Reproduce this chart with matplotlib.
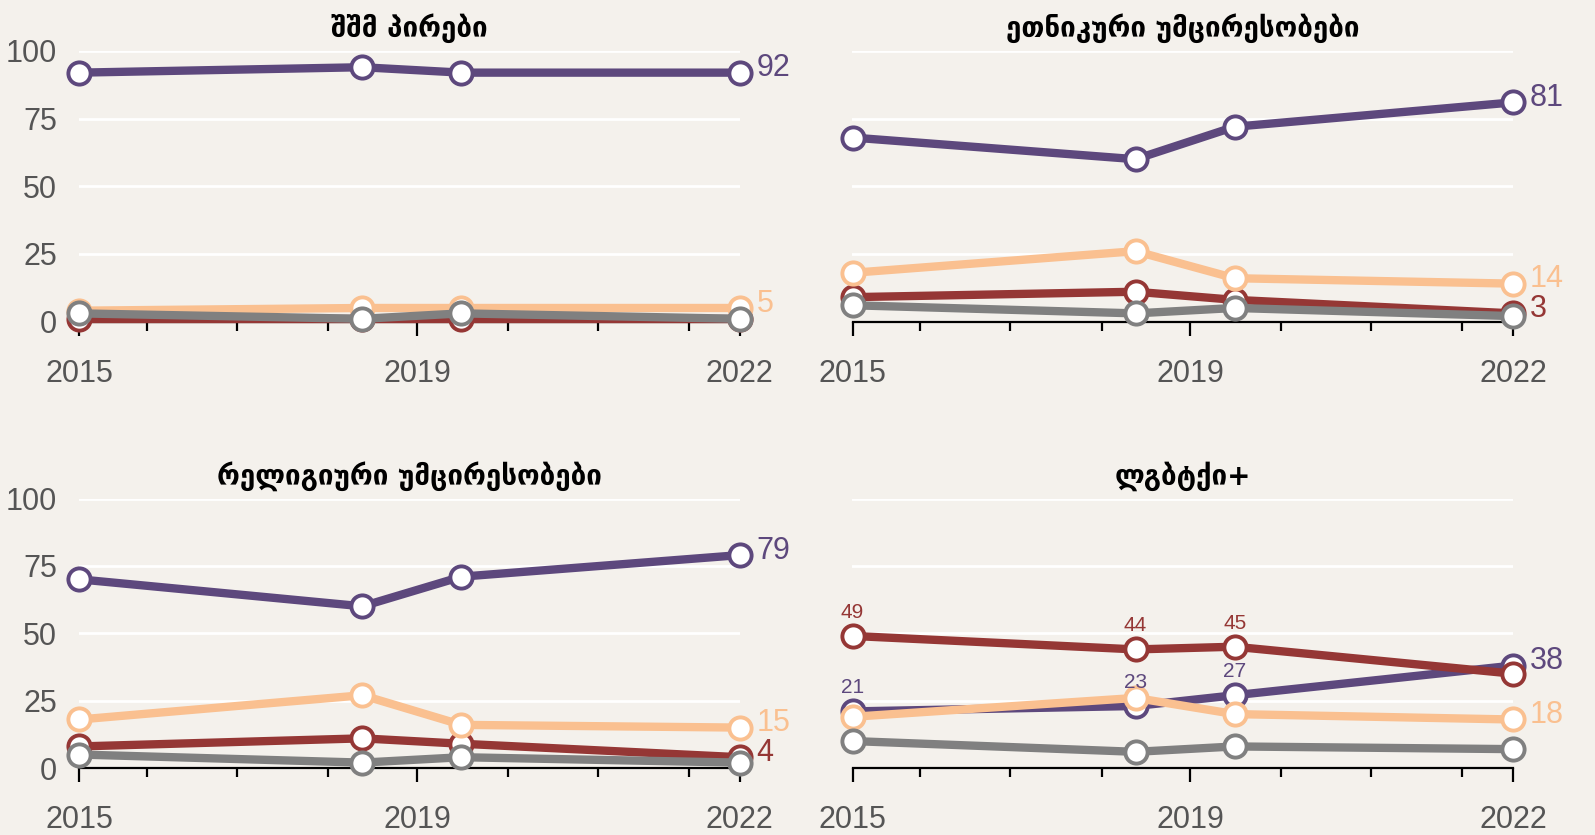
"""Small multiples: attitudes towards four groups, 2015-2022."""

import matplotlib
matplotlib.use('Agg')
from matplotlib import pyplot

# Survey waves (decimal years).
years = [2015.0, 2018.0, 2019.05, 2022.0]

titles = ['შშმ პირები', 'ეთნიკური უმცირესობები',
          'რელიგიური უმცირესობები', 'ლგბტქი+']

# One row per panel, in the order of the titles.
purple_vals = [[92, 94, 92, 92],
               [68, 60, 72, 81],
               [70, 60, 71, 79],
               [21, 23, 27, 38]]
red_vals = [[1, 1, 1, 1],
            [9, 11, 8, 3],
            [8, 11, 9, 4],
            [49, 44, 45, 35]]
peach_vals = [[4, 5, 5, 5],
              [18, 26, 16, 14],
              [18, 27, 16, 15],
              [19, 26, 20, 18]]
grey_vals = [[3, 1, 3, 1],
             [6, 3, 5, 2],
             [5, 2, 4, 2],
             [10, 6, 8, 7]]

# Which series get a value label at the last point, per panel.
end_labels = [['purple', 'peach'],
              ['purple', 'peach', 'red'],
              ['purple', 'peach', 'red'],
              ['purple', 'peach']]
# Points labelled along the line (panel 4 only).
point_labels = {3: {'red': [0, 1, 2], 'purple': [0, 1, 2]}}

major_ticks = [2015.0, 2018.58, 2022.0]
major_labels = ['2015', '2019', '2022']
minor_ticks = [2015.72, 2016.67, 2017.64, 2019.54, 2020.50, 2021.46]

colors = {'purple': '#5d487d', 'red': '#953735',
          'peach': '#fac090', 'grey': '#808080'}
series = {'purple': purple_vals, 'red': red_vals,
          'peach': peach_vals, 'grey': grey_vals}
order = ['purple', 'red', 'peach', 'grey']

bg = '#f4f1ec'
pyplot.rcParams['font.family'] = ['Liberation Sans', 'DejaVu Sans']

fig = pyplot.figure(figsize=(15.95, 8.35), dpi=100, facecolor=bg)

W, H = 1595.0, 835.0
lefts = [79.3, 852.5]
width = 660.5
tops = [51.0, 498.5]
bottoms = [321.5, 768.0]

for i, title in enumerate(titles):
    row, col = divmod(i, 2)
    ax = fig.add_axes([lefts[col] / W, (H - bottoms[row]) / H,
                       width / W, (bottoms[row] - tops[row]) / H])
    ax.set_facecolor(bg)
    ax.set_xlim(2015.0, 2022.0)
    ax.set_ylim(0, 100)

    for z, name in enumerate(order):
        ax.plot(years, series[name][i], color=colors[name], lw=6,
                marker='o', ms=16, mfc='white', mec=colors[name], mew=2.8,
                clip_on=False, zorder=3 + z)

    for name in end_labels[i]:
        v = series[name][i][-1]
        ax.annotate(str(v), (years[-1], v), xytext=(12, 3),
                    textcoords='offset points', ha='left', va='center',
                    color=colors[name], fontsize=22, zorder=10)

    for name, idxs in point_labels.get(i, {}).items():
        for k in idxs:
            v = series[name][i][k]
            ax.annotate(str(v), (years[k], v), xytext=(0, 17),
                        textcoords='offset points', ha='center',
                        va='center', color=colors[name], fontsize=15,
                        zorder=10)

    ax.set_title(title, family=['DejaVu Sans'], fontweight='bold',
                 fontsize=20, pad=10, color='black')

    # Grid and axes.
    ax.set_yticks([0, 25, 50, 75, 100])
    ax.grid(axis='y', color='white', lw=2, zorder=1)
    ax.set_axisbelow(True)
    for side in ['left', 'right', 'top']:
        ax.spines[side].set_visible(False)
    ax.spines['bottom'].set_color('black')
    ax.spines['bottom'].set_linewidth(1.6)
    ax.spines['bottom'].set_zorder(2)

    ax.set_xticks(major_ticks)
    ax.set_xticklabels(major_labels)
    ax.set_xticks(minor_ticks, minor=True)
    ax.tick_params(axis='x', which='major', direction='out', length=10,
                   width=1.6, color='black', pad=17, labelsize=22,
                   labelcolor='#555555')
    ax.tick_params(axis='x', which='minor', direction='out', length=6.5,
                   width=1.6, color='black')
    ax.tick_params(axis='y', length=0, labelsize=22, labelcolor='#555555',
                   pad=16)
    if col == 1:
        ax.tick_params(axis='y', labelleft=False)

fig.savefig('out.png', dpi=100, facecolor=bg)
